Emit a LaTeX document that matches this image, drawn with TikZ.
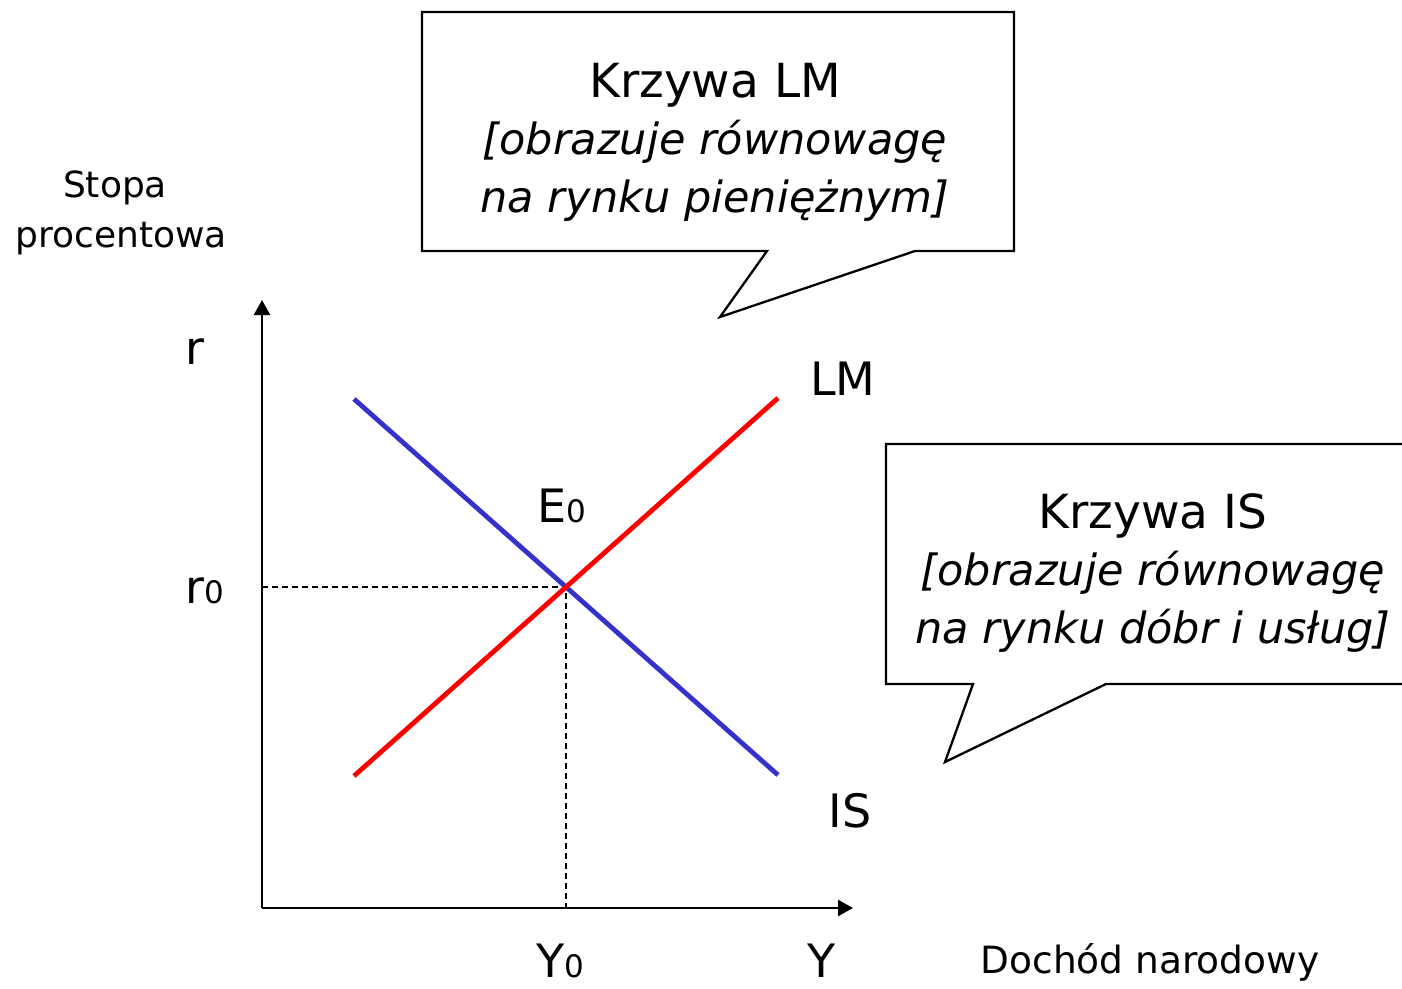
\documentclass[tikz,border=0pt]{standalone}
\usepackage{fontspec}
\setmainfont{DejaVu Sans}
\usetikzlibrary{arrows.meta,calc}
\definecolor{isblue}{RGB}{51,51,204}
\tikzset{
axis/.style={
line width=2.4pt,
-{Triangle[length=15pt,width=16pt]}
},
isline/.style={
line width=4.8pt,
draw=isblue
},
lmline/.style={
line width=4.8pt,
draw=red
},
guide/.style={
line width=1.4pt,
dash pattern=on 6pt off 4pt
},
bubble/.style={
line width=2.3pt,
fill=white,
line join=miter
},
lbl/.style={
anchor=base,
inner sep=0pt,
font=\fontsize{46}{46}\selectfont
},
axtitle/.style={
anchor=base,
inner sep=0pt,
font=\fontsize{36}{36}\selectfont
},
bubbletext/.style={
align=center,
inner sep=0pt,
font=\fontsize{43}{57.5}\selectfont\itshape
}
}
\newcommand{\lowidx}[1]{{\fontsize{31}{31}\selectfont #1}}

\begin{document}
\begin{tikzpicture}[x=1pt,y=-1pt]
\path[use as bounding box,clip] (0,0) rectangle (1402,988);

% axes
\coordinate (o) at (262,908);
\coordinate (ytop) at (262,300);
\coordinate (xend) at (853,908);
\draw[axis](o)--(ytop);
\draw[axis](o)--(xend);

% curves
\coordinate (is1) at (354,399);
\coordinate (is2) at (778,775);
\coordinate (lm1) at (354,776);
\coordinate (lm2) at (778,398);
\coordinate (e) at (566,587);
\draw[guide](o|-e)--(e)--(e|-o);
\draw[isline](is1)--(is2);
\draw[lmline](lm1)--(lm2);

% labels
\node[lbl](r) at (195,364){r};
\node[lbl](r0) at (205,603){r\lowidx{0}};
\node[lbl](y0) at (560,977){Y\lowidx{0}};
\node[lbl](y) at (822,977){Y};
\node[lbl](e0) at (562,522){E\lowidx{0}};
\node[lbl](lm) at (843,395){LM};
\node[lbl](is) at (850,827){IS};
\node[axtitle](stopa) at (115,197){Stopa};
\node[axtitle](procent) at (121,247){procentowa};
\node[axtitle,font=\fontsize{37.5}{37.5}\selectfont](dochod) at (1150,973){Dochód narodowy};

% callouts
\coordinate (lmnw) at (422,12);
\coordinate (lmse) at (1014,251);
\coordinate (lmtip) at (720,317);
\draw[bubble](lmnw)-|(lmse)--($(lmse)+(-99,0)$)--(lmtip)--($(lmnw|-lmse)+(345,0)$)--(lmnw|-lmse)--cycle;
\node[bubbletext](lmtext) at (715,142){{\upshape\fontsize{47}{57.5}\selectfont Krzywa LM}\\\relax[obrazuje równowagę\\na rynku pieniężnym]};

\coordinate (isnw) at (886,444);
\coordinate (isse) at (1408,684);
\coordinate (istip) at (945,762);
\draw[bubble](isnw)-|(isse)--($(isse)+(-302,0)$)--(istip)--($(isnw|-isse)+(87,0)$)--(isnw|-isse)--cycle;
\node[bubbletext](istext) at (1153,573){{\upshape\fontsize{47}{57.5}\selectfont Krzywa IS}\\\relax[obrazuje równowagę\\na rynku dóbr i usług]};
\end{tikzpicture}
\end{document}
